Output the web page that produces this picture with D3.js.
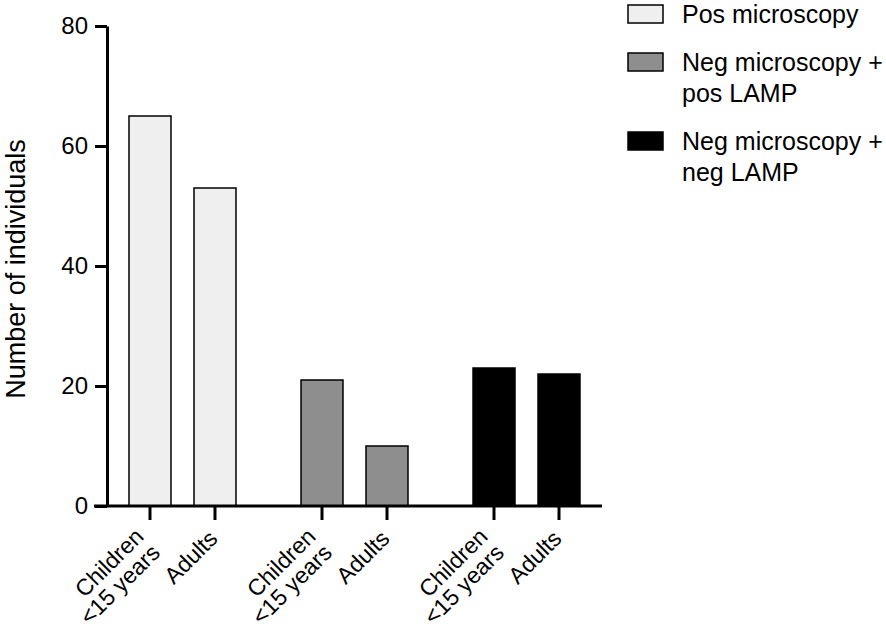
<!DOCTYPE html>
<html>
<head>
<meta charset="utf-8">
<script src="https://cdn.jsdelivr.net/npm/d3@7"></script>
<style>
    body { margin: 0; background: #fff; }
    svg { display: block; font-family: "Liberation Sans", Arial, sans-serif; }
</style>
</head>
<body>
<div id="chart"></div>
<script>
// Chart data
const groups = ['Pos microscopy', 'Neg microscopy + pos LAMP', 'Neg microscopy + neg LAMP'];
const legendLines = [['Pos microscopy'], ['Neg microscopy +', 'pos LAMP'], ['Neg microscopy +', 'neg LAMP']];
const ageGroups = ['Children', 'Adults'];
const ageLabels = [['Children', '<15 years'], ['Adults']];
const posMicroscopy = [65, 53];
const negMicPosLamp = [21, 10];
const negMicNegLamp = [23, 22];
const yTicks = [0, 20, 40, 60, 80];
const yTitle = 'Number of individuals';

const seriesValues = [posMicroscopy, negMicPosLamp, negMicNegLamp];
const colours = ['#efefef', '#8e8e8e', '#000000'];

// Flatten for D3
const bars = [];
groups.forEach((g, gi) => {
    ageGroups.forEach((a, ai) => {
        bars.push({ group: g, age: a, label: ageLabels[ai], value: seriesValues[gi][ai] });
    });
});

const width = 886, height = 631;
const axisLeft = 107, axisRight = 602;
const yTop = 26, yBottom = 506;

const svg = d3.select('#chart')
    .append('svg')
    .attr('width', width)
    .attr('height', height);

// Scales
const y = d3.scaleLinear().domain([0, 80]).range([yBottom, yTop]);

const xGroup = d3.scaleBand()
    .domain(groups)
    .range([129, 580])
    .paddingInner(0.378)
    .paddingOuter(0);

const xAge = d3.scaleBand()
    .domain(ageGroups)
    .range([0, xGroup.bandwidth()])
    .paddingInner(0.354)
    .paddingOuter(0);

const colour = d3.scaleOrdinal().domain(groups).range(colours);

const barX = d => xGroup(d.group) + xAge(d.age);
const barCenter = d => barX(d) + xAge.bandwidth() / 2;

// Bars
svg.append('g')
    .selectAll('rect')
    .data(bars)
    .enter()
    .append('rect')
    .attr('x', barX)
    .attr('y', d => y(d.value))
    .attr('width', xAge.bandwidth())
    .attr('height', d => y(0) - y(d.value))
    .attr('fill', d => colour(d.group))
    .attr('stroke', '#000')
    .attr('stroke-width', 1.5);

// Y axis
const yAxis = svg.append('g')
    .attr('transform', `translate(${axisLeft},0)`)
    .call(d3.axisLeft(y).tickValues(yTicks).tickSize(12).tickSizeOuter(0).tickPadding(7));

yAxis.select('.domain').attr('stroke-width', 3);
yAxis.selectAll('.tick line').attr('stroke-width', 3);
yAxis.selectAll('.tick text')
    .style('font-size', '24px')
    .attr('fill', '#000')
    .attr('font-family', 'Liberation Sans, Arial, sans-serif');

// X axis baseline (extends left like a tick)
svg.append('line')
    .attr('x1', axisLeft - 13)
    .attr('x2', axisRight)
    .attr('y1', y(0))
    .attr('y2', y(0))
    .attr('stroke', '#000')
    .attr('stroke-width', 3);

// X ticks under each bar
svg.append('g')
    .selectAll('line')
    .data(bars)
    .enter()
    .append('line')
    .attr('x1', barCenter)
    .attr('x2', barCenter)
    .attr('y1', y(0))
    .attr('y2', y(0) + 14)
    .attr('stroke', '#000')
    .attr('stroke-width', 3);

// Rotated x labels: one text per line, placed in page coords
const cos45 = Math.SQRT1_2;
const lineHeight = 23;
const labelLines = [];
bars.forEach(d => {
    const n = d.label.length;
    d.label.forEach((t, i) => {
        // offsets in the rotated frame
        const lx = -4.9 * (n - 1);
        const ly = -7.8 * (n - 1) + i * lineHeight;
        labelLines.push({
            text: t,
            px: barCenter(d) + 4 + (lx + ly) * cos45,
            py: 540 + (ly - lx) * cos45
        });
    });
});

svg.append('g')
    .selectAll('text')
    .data(labelLines)
    .enter()
    .append('text')
    .attr('transform', d => `translate(${d.px},${d.py}) rotate(-45)`)
    .attr('text-anchor', 'end')
    .style('font-size', '23px')
    .text(d => d.text);

// Y axis title
svg.append('text')
    .attr('transform', `translate(25,269) rotate(-90)`)
    .attr('text-anchor', 'middle')
    .style('font-size', '27px')
    .text(yTitle);

// Legend
const legend = svg.append('g');
let baseline = 23;
legendLines.forEach((lines, i) => {
    legend.append('rect')
        .attr('x', 628)
        .attr('y', baseline - 18)
        .attr('width', 35)
        .attr('height', 18)
        .attr('fill', colour(groups[i]))
        .attr('stroke', '#000')
        .attr('stroke-width', 1.5);

    lines.forEach((line, li) => {
        legend.append('text')
            .attr('x', 682)
            .attr('y', baseline + li * 31)
            .style('font-size', '25px')
            .text(line);
    });
    baseline += (lines.length - 1) * 31 + 48;
});
</script>
</body>
</html>
